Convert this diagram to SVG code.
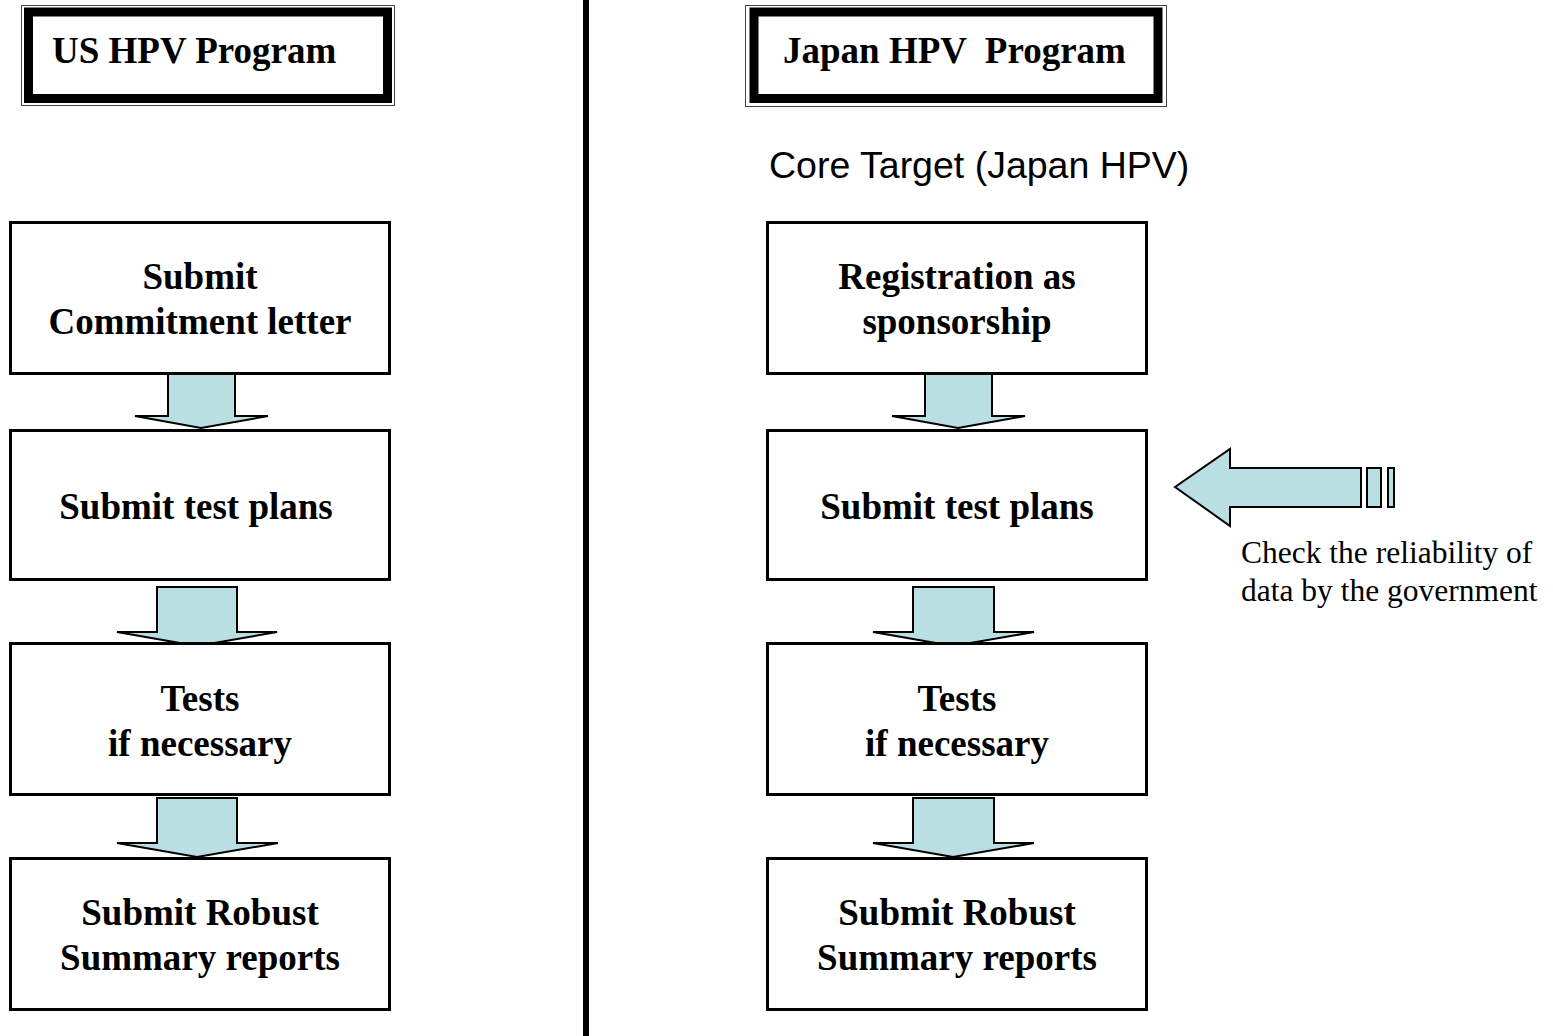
<svg xmlns="http://www.w3.org/2000/svg" width="1553" height="1036" viewBox="0 0 1553 1036">
<style>
.box{fill:#fff;stroke:#000;stroke-width:3}
.arrow{fill:#B9DFE2;stroke:#000;stroke-width:2;stroke-linejoin:miter}
.t{font-family:"Liberation Serif","Times New Roman",serif;font-weight:bold;font-size:37px;fill:#000;text-anchor:middle}
.h{font-family:"Liberation Serif","Times New Roman",serif;font-weight:bold;font-size:37px;fill:#000;white-space:pre}
.note{font-family:"Liberation Serif","Times New Roman",serif;font-size:31.5px;fill:#000}
.core{font-family:"Liberation Sans",Arial,sans-serif;font-size:37.5px;fill:#000}
.thin{fill:none;stroke:#444;stroke-width:1}
.thick{fill:#fff;stroke:#000;stroke-width:9}
</style>
<rect width="1553" height="1036" fill="#fff"/>
<line x1="586" y1="0" x2="586" y2="1036" stroke="#000" stroke-width="6"/>

<g id="us-header">
<rect class="thin" x="21.5" y="5.5" width="373" height="100"/>
<rect class="thick" x="28.5" y="12" width="359" height="86.5"/>
<text class="h" x="52" y="63">US HPV Program</text>
</g>
<g id="jp-header">
<rect class="thin" x="745.5" y="5.5" width="421" height="101"/>
<rect class="thick" x="754" y="12" width="404" height="86.5"/>
<text class="h" x="783" y="63" xml:space="preserve">Japan HPV  Program</text>
</g>
<text id="core-target" class="core" x="769" y="178">Core Target (Japan HPV)</text>

<g id="connectors">
<polygon class="arrow" points="168,374 235,374 235,416 268,416 201,428 135,416 168,416"/>
<polygon class="arrow" points="157,587 237,587 237,632 277,632 197,646 117,632 157,632"/>
<polygon class="arrow" points="157,798 237,798 237,843 278,843 197,857 117,843 157,843"/>
<polygon class="arrow" points="925,374 992,374 992,416 1025,416 958,428 892,416 925,416"/>
<polygon class="arrow" points="913,587 994,587 994,632 1034,632 953,646 873,632 913,632"/>
<polygon class="arrow" points="913,798 994,798 994,843 1034,843 953,857 873,843 913,843"/>
<polygon class="arrow" points="1175,487 1230,449 1230,468 1361,468 1361,507 1230,507 1230,526"/>
<rect class="arrow" x="1367" y="468" width="14" height="39"/>
<rect class="arrow" x="1388" y="468" width="6" height="39"/>
</g>

<g id="us-1"><rect class="box" x="10.5" y="222.5" width="379" height="151"/>
<text class="t" x="200" y="289">Submit</text><text class="t" x="200" y="334">Commitment letter</text></g>
<g id="us-2"><rect class="box" x="10.5" y="430.5" width="379" height="149"/>
<text class="t" x="196" y="519">Submit test plans</text></g>
<g id="us-3"><rect class="box" x="10.5" y="643.5" width="379" height="151"/>
<text class="t" x="200" y="711">Tests</text><text class="t" x="200" y="756">if necessary</text></g>
<g id="us-4"><rect class="box" x="10.5" y="858.5" width="379" height="151"/>
<text class="t" x="200" y="925">Submit Robust</text><text class="t" x="200" y="970">Summary reports</text></g>

<g id="jp-1"><rect class="box" x="767.5" y="222.5" width="379" height="151"/>
<text class="t" x="957" y="289">Registration as</text><text class="t" x="957" y="334">sponsorship</text></g>
<g id="jp-2"><rect class="box" x="767.5" y="430.5" width="379" height="149"/>
<text class="t" x="957" y="519">Submit test plans</text></g>
<g id="jp-3"><rect class="box" x="767.5" y="643.5" width="379" height="151"/>
<text class="t" x="957" y="711">Tests</text><text class="t" x="957" y="756">if necessary</text></g>
<g id="jp-4"><rect class="box" x="767.5" y="858.5" width="379" height="151"/>
<text class="t" x="957" y="925">Submit Robust</text><text class="t" x="957" y="970">Summary reports</text></g>

<g id="note">
<text class="note" x="1241" y="563">Check the reliability of</text>
<text class="note" x="1241" y="601">data by the government</text>
</g>
</svg>
